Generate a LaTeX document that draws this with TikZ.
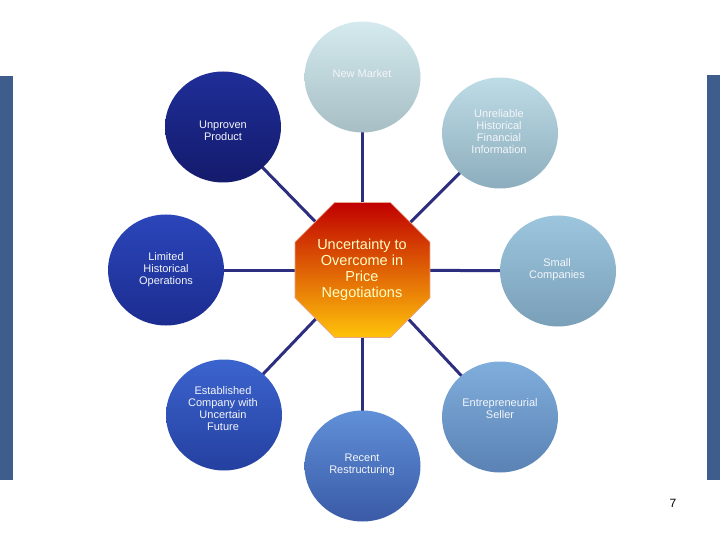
\documentclass[tikz,border=0pt]{standalone}
\usepackage{fontspec}
\setmainfont{Liberation Sans}
\usetikzlibrary{shapes.geometric}
\pgfdeclarelayer{background}
\pgfsetlayers{background,main}
\definecolor{barblue}{HTML}{3E5D8C}
\definecolor{linkblue}{HTML}{2E2E80}
\definecolor{nmT}{HTML}{D4EAEF}\definecolor{nmB}{HTML}{A6BEC4}
\definecolor{urT}{HTML}{BEDCE6}\definecolor{urB}{HTML}{8CADBD}
\definecolor{scT}{HTML}{9CC6DE}\definecolor{scB}{HTML}{7A9FB8}
\definecolor{enT}{HTML}{80AEDC}\definecolor{enB}{HTML}{5A82B4}
\definecolor{rrT}{HTML}{6090D8}\definecolor{rrB}{HTML}{3A5AA6}
\definecolor{ecT}{HTML}{3C64CE}\definecolor{ecB}{HTML}{2440A0}
\definecolor{lhT}{HTML}{2B46BA}\definecolor{lhB}{HTML}{1C2C90}
\definecolor{upT}{HTML}{1F2E98}\definecolor{upB}{HTML}{141B6C}
\definecolor{octT}{HTML}{C00000}\definecolor{octM}{HTML}{DC4A0C}\definecolor{octB}{HTML}{FFC30A}
\definecolor{octEdge}{HTML}{E8A48C}
\definecolor{ctext}{HTML}{FFFFC4}
\definecolor{wtext}{HTML}{F4F6FA}
\tikzset{
  bubble/.style={ellipse, inner sep=0pt, minimum width=116pt, minimum height=111pt},
  ltext/.style={align=center, text=wtext, font=\fontsize{11}{12}\selectfont, inner sep=0pt},
  link/.style={draw=linkblue, line width=3pt},
  bar/.style={fill=barblue, draw=none}
}
\begin{document}
\begin{tikzpicture}[x=1pt,y=-1pt]
\useasboundingbox (0,0) rectangle (720,540);
% side bars
\path[bar] (0,76) rectangle (13,480);
\path[bar] (707,75) rectangle (720,480);
% centre octagon
\node[regular polygon, regular polygon sides=8, minimum size=146pt, inner sep=0pt,
      top color=octT, middle color=octM, bottom color=octB, draw=octEdge, line width=0.8pt]
      (oct) at (362.5,270) {};
\node[align=center, text=ctext, font=\fontsize{14.5}{16}\selectfont, inner sep=0pt]
      (octtext) at (362,270) {Uncertainty to\\Overcome in\\Price\\Negotiations};
% satellites
\node[bubble, top color=nmT, bottom color=nmB] (nm) at (362.5,77) {};
\node[bubble, top color=urT, bottom color=urB] (ur) at (500,133) {};
\node[bubble, top color=scT, bottom color=scB] (sc) at (558,271) {};
\node[bubble, top color=enT, bottom color=enB] (en) at (500,417) {};
\node[bubble, top color=rrT, bottom color=rrB] (rr) at (362.5,466) {};
\node[bubble, top color=ecT, bottom color=ecB] (ec) at (224,415) {};
\node[bubble, top color=lhT, bottom color=lhB] (lh) at (166,270) {};
\node[bubble, top color=upT, bottom color=upB] (up) at (223,127) {};
% labels
\node[ltext] (nmt) at (362,74) {New Market};
\node[ltext] (urt) at (499,131.5) {Unreliable\\Historical\\Financial\\Information};
\node[ltext] (sct) at (557,270) {Small\\Companies};
\node[ltext] (ent) at (500,409) {Entrepreneurial\\Seller};
\node[ltext] (rrt) at (362,465) {Recent\\Restructuring};
\node[ltext] (ect) at (223,408.5) {Established\\Company with\\Uncertain\\Future};
\node[ltext] (lht) at (166,270) {Limited\\Historical\\Operations};
\node[ltext] (upt) at (223,131) {Unproven\\Product};
% page number
\node[font=\fontsize{12}{14}\selectfont, inner sep=0pt] (pg) at (673,503) {7};
% connectors
\begin{pgfonlayer}{background}
\foreach \n in {nm,ur,sc,en,rr,ec,lh,up}{
  \draw[link] (oct.center) -- (\n.center);
}
\end{pgfonlayer}
\end{tikzpicture}
\end{document}
